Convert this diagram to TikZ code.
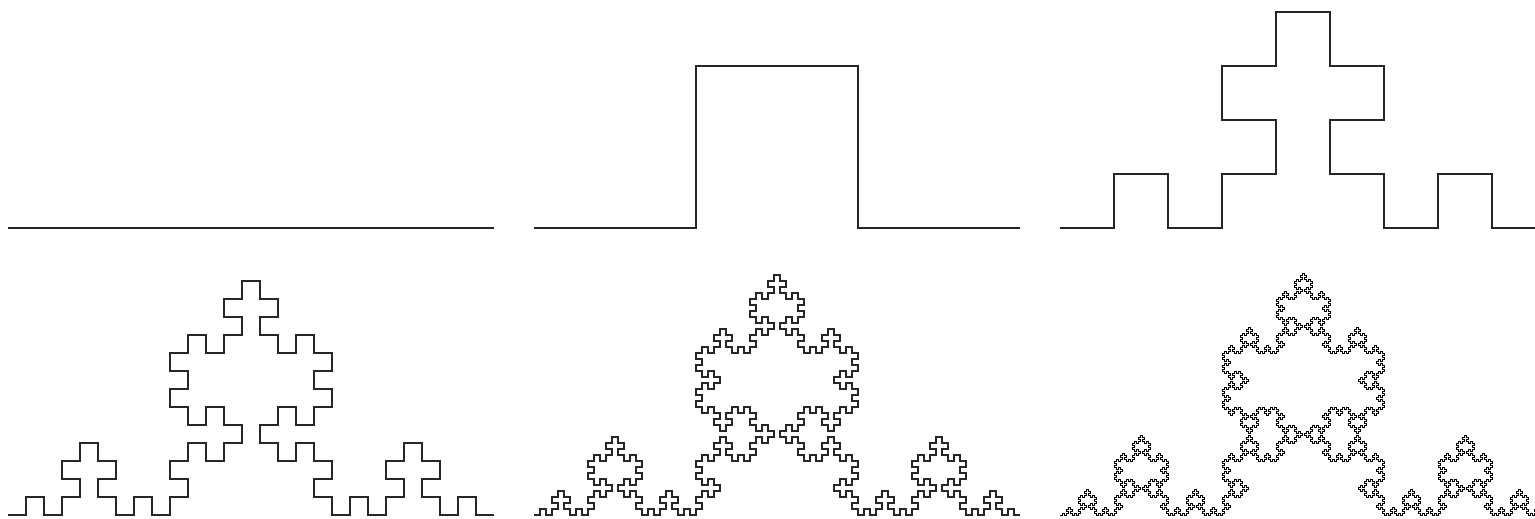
\documentclass[tikz,border=0pt]{standalone}
\usetikzlibrary{lindenmayersystems}
\pgfdeclarelindenmayersystem{QuadKoch}{
  \symbol{G}{\pgflsystemdrawforward}
  \rule{F -> F+G-F-G+F}
  \rule{G -> G-F+G+F-G}
}
\tikzset{
  curve/.style={draw=black!85, line width=1.6pt, line join=miter},
  finecurve/.style={draw=black, line width=0.98pt, line join=miter}
}
\begin{document}
\begin{tikzpicture}
\useasboundingbox (0pt,0pt) rectangle (1535pt,519pt);
\clip (0pt,0pt) rectangle (1535pt,519pt);
% level 0
\draw[curve] (8pt,291pt) -- ++(486pt,0pt);
% level 1
\begin{scope}[shift={(534pt,291pt)}]
\draw[curve, l-system={QuadKoch, axiom=F, order=1, step=162pt, angle=90}] lindenmayer system;
\end{scope}
% level 2
\begin{scope}[shift={(1060pt,291pt)}]
\draw[curve, l-system={QuadKoch, axiom=F, order=2, step=54pt, angle=90}] lindenmayer system;
\end{scope}
% level 3
\begin{scope}[shift={(8pt,4pt)}]
\draw[curve, l-system={QuadKoch, axiom=F, order=3, step=18pt, angle=90}] lindenmayer system;
\end{scope}
% level 4
\begin{scope}[shift={(534pt,4pt)}]
\draw[curve, line width=1.5pt, l-system={QuadKoch, axiom=F, order=4, step=6pt, angle=90}] lindenmayer system;
\end{scope}
% level 5
\begin{scope}[shift={(1060pt,4pt)}]
\draw[finecurve, l-system={QuadKoch, axiom=F, order=5, step=2pt, angle=90}] lindenmayer system;
\end{scope}
\end{tikzpicture}
\end{document}
